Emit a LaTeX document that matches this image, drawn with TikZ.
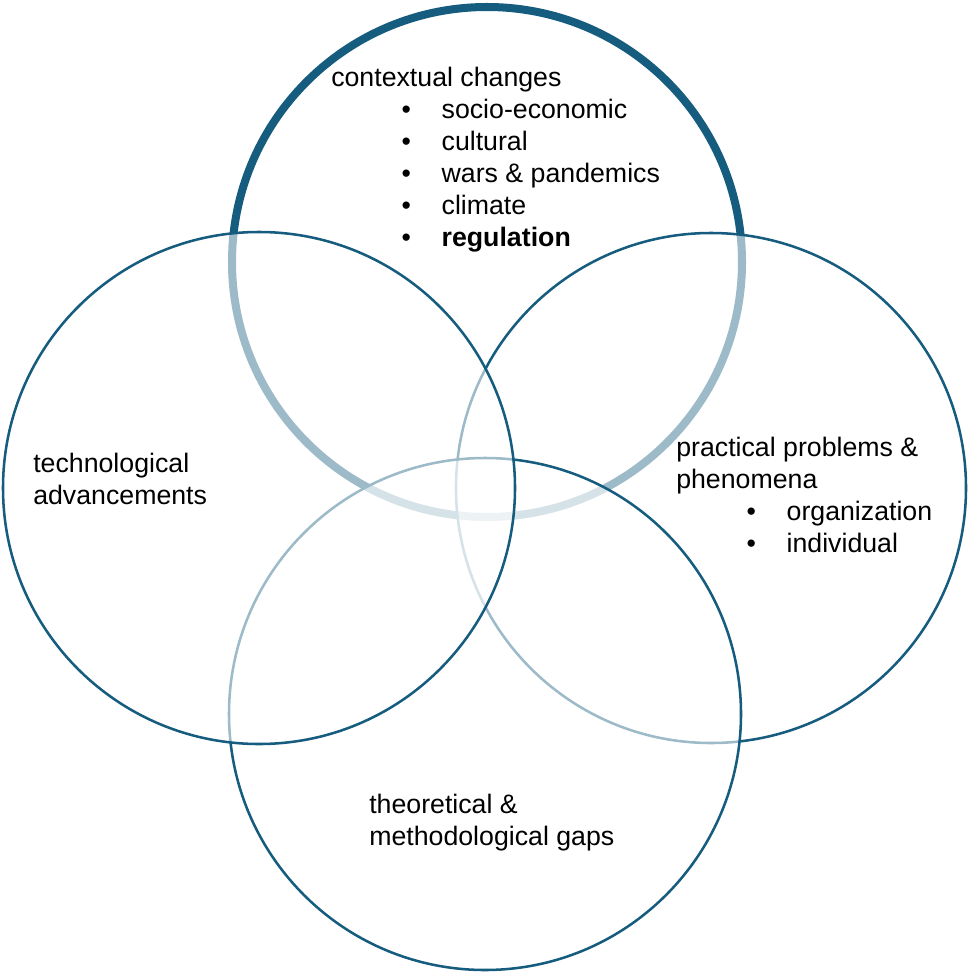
\documentclass[tikz,border=0pt]{standalone}
\usepackage{fontspec}
\setmainfont{Liberation Sans}
\usepackage{xcolor}
\usepackage{tikz}
\usetikzlibrary{positioning}

\definecolor{ringblue}{RGB}{22,92,126}

\newcommand{\vennitem}[1]{\hspace*{50pt}\makebox[28.5pt][l]{•}#1}

\begin{document}
\begin{tikzpicture}[
    x=0.025cm,
    y=-0.025cm,
    ring/.style={
        draw=ringblue,
        line width=1.8pt,
        fill=white,
        fill opacity=0.58
    },
    thickring/.style={
        draw=ringblue,
        line width=5.7pt
    },
    label/.style={
        align=left,
        inner sep=0pt,
        anchor=north west,
        font=\fontsize{19}{22.75}\selectfont
    }
]

\useasboundingbox (0,0) rectangle (969,973);

% ==================================================
% Circles (lowest first)
% ==================================================

\draw[thickring] (487,262) circle (255);

\draw[ring] (711,488) circle (255);

\draw[ring] (485,714) circle (256);

\draw[ring] (259,488) circle (256);

% ==================================================
% Labels
% ==================================================

\node[label] (context) at (331,67)
{
    contextual changes\\
    \vennitem{socio-economic}\\
    \vennitem{cultural}\\
    \vennitem{wars \& pandemics}\\
    \vennitem{climate}\\
    \vennitem{\textbf{regulation}}
};

\node[label] (tech) at (33,453)
{
    technological\\
    advancements
};

\node[label] (practical) at (676,437)
{
    practical problems \&\\
    phenomena\\
    \vennitem{organization}\\
    \vennitem{individual}
};

\node[label] (gaps) at (369,794)
{
    theoretical \&\\
    methodological gaps
};

\end{tikzpicture}
\end{document}
